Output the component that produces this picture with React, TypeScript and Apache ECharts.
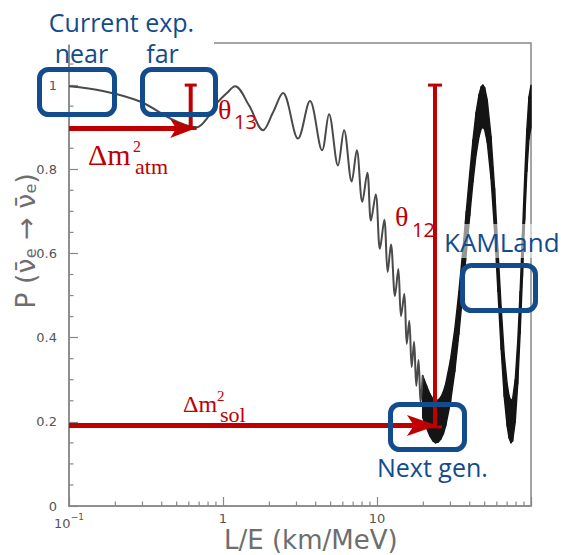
import React, { useEffect, useRef } from 'react';
import * as echarts from 'echarts';

// Resolved part of the survival curve (L/E in km/MeV, probability)
const curveX = [0.1, 0.166, 0.289, 0.453, 0.575, 0.678, 0.787, 0.914, 1.06, 1.197, 1.474, 1.82, 2.11, 2.45, 3.07, 3.67, 4.4, 4.88, 5.58, 6.11, 6.85, 7.39, 8.03, 8.65, 9.14, 9.81, 10.45, 11.15, 11.73, 12.32, 13.09, 13.75, 14.32, 15.04, 15.6, 16.2, 16.8, 17.4, 18.0, 18.6, 19.2, 19.8];
const curveP = [0.997, 0.986, 0.961, 0.921, 0.905, 0.9, 0.921, 0.957, 0.981, 0.997, 0.952, 0.893, 0.935, 0.981, 0.873, 0.962, 0.845, 0.931, 0.809, 0.893, 0.771, 0.845, 0.723, 0.792, 0.678, 0.74, 0.611, 0.68, 0.556, 0.621, 0.499, 0.563, 0.451, 0.504, 0.385, 0.44, 0.33, 0.39, 0.285, 0.347, 0.245, 0.31];

// Dense (unresolved) part: upper and lower envelope of the fast oscillation
const bandX = [19.8, 21, 22, 23, 24, 25, 26, 27, 28, 30, 32, 34, 36, 38, 40, 42, 44, 46, 47.5, 48.7, 50, 52, 55, 58, 61, 64, 67, 70, 72, 74, 76, 79, 82, 85, 88, 91, 94, 97, 100];
const bandUpper = [0.31, 0.285, 0.267, 0.255, 0.25, 0.252, 0.259, 0.272, 0.292, 0.347, 0.42, 0.508, 0.603, 0.7, 0.79, 0.87, 0.935, 0.978, 0.996, 1.0, 0.994, 0.964, 0.878, 0.755, 0.61, 0.472, 0.36, 0.29, 0.262, 0.25, 0.255, 0.3, 0.39, 0.51, 0.645, 0.78, 0.895, 0.972, 1.0];
const bandLower = [0.21, 0.185, 0.167, 0.155, 0.15, 0.152, 0.159, 0.172, 0.192, 0.247, 0.32, 0.408, 0.503, 0.6, 0.69, 0.77, 0.835, 0.878, 0.896, 0.9, 0.894, 0.864, 0.778, 0.655, 0.51, 0.372, 0.26, 0.19, 0.162, 0.15, 0.155, 0.2, 0.29, 0.41, 0.545, 0.68, 0.795, 0.872, 0.9];

const xMinorTicks = [0.2, 0.3, 0.4, 0.5, 0.6, 0.7, 0.8, 0.9, 2, 3, 4, 5, 6, 7, 8, 9, 20, 30, 40, 50, 60, 70, 80, 90];
const yMinorTicks = [0.05, 0.1, 0.15, 0.25, 0.3, 0.35, 0.45, 0.5, 0.55, 0.65, 0.7, 0.75, 0.85, 0.9, 0.95, 1.05];

// annotation anchors (data units)
const atmArrow = { y: 0.897, tipX: 0.66 };
const theta13 = { x: 0.617, top: 1.0, bottom: 0.897 };
const theta12 = { x: 23.8, top: 1.0, bottom: 0.188 };
const solArrow = { y: 0.191, tipX: 24.5 };

const RED = '#c00000';
const BLUE = '#124c8c';
const GRAY = '#888';

export default function App() {
  const ref = useRef<HTMLDivElement>(null);
  useEffect(() => {
    document.body.style.margin = '0';
    const chart = echarts.init(ref.current!, null, { renderer: 'svg' });
    const tickRender = (horizontal: boolean) => (params: any, api: any) => {
      const p = horizontal ? api.coord([0.1, api.value(1)]) : api.coord([api.value(0), 0]);
      return {
        type: 'line',
        shape: horizontal
          ? { x1: p[0], y1: p[1], x2: p[0] + 4.5, y2: p[1] }
          : { x1: p[0], y1: p[1], x2: p[0], y2: p[1] - 4.5 },
        style: { stroke: GRAY, lineWidth: 1.2 },
      };
    };
    const bandSegments = bandX.slice(0, -1).map((x, i) => [x, bandUpper[i], bandLower[i], bandX[i + 1], bandUpper[i + 1], bandLower[i + 1]]);
    chart.setOption({
      animation: false,
      grid: { left: 69, right: 30, top: 43, bottom: 49, show: true, borderColor: GRAY, borderWidth: 1.5, backgroundColor: 'transparent' },
      xAxis: {
        type: 'log', logBase: 10, min: 0.1, max: 100,
        axisLine: { lineStyle: { color: GRAY, width: 1.5 } },
        axisTick: { inside: true, length: 9, lineStyle: { color: GRAY, width: 1.2 } },
        splitLine: { show: false },
        axisLabel: {
          margin: 6, color: '#555', fontFamily: 'DejaVu Sans', fontSize: 13,
          formatter: (v: number) => {
            const l = Math.round(Math.log10(v));
            if (l === -1) return '{a|10}{b|−1}';
            if (l === 0) return '1';
            if (l === 1) return '10';
            return '';
          },
          rich: {
            a: { fontSize: 13, fontFamily: 'DejaVu Sans', color: '#555', lineHeight: 18, verticalAlign: 'bottom' },
            b: { fontSize: 9, fontFamily: 'DejaVu Sans', color: '#555', lineHeight: 18, verticalAlign: 'top' },
          },
        },
      },
      yAxis: {
        type: 'value', min: 0, max: 1.1, interval: 0.2,
        axisLine: { show: true, lineStyle: { color: GRAY, width: 1.5 } },
        axisTick: { show: true, inside: true, length: 9, lineStyle: { color: GRAY, width: 1.2 } },
        splitLine: { show: false },
        axisLabel: { showMaxLabel: false, margin: 12, color: '#555', fontFamily: 'DejaVu Sans', fontSize: 13 },
      },
      series: [
        {
          type: 'line', data: curveX.map((x, i) => [x, curveP[i]]), smooth: 0.35, showSymbol: false,
          lineStyle: { color: '#4a4a4a', width: 2 }, z: 3,
        },
        {
          type: 'custom', data: bandSegments, encode: { x: [0, 3], y: [1, 2, 4, 5] }, silent: true, z: 3,
          renderItem: (params: any, api: any) => {
            const a = api.coord([api.value(0), api.value(1)]);
            const b = api.coord([api.value(3), api.value(4)]);
            const c = api.coord([api.value(3), api.value(5)]);
            const d = api.coord([api.value(0), api.value(2)]);
            return {
              type: 'polygon',
              shape: { points: [a, b, c, d] },
              style: { fill: '#151515', stroke: '#151515', lineWidth: 1.4, lineJoin: 'round' },
            };
          },
        },
        { type: 'custom', data: xMinorTicks.map((v) => [v, 0]), renderItem: tickRender(false), silent: true, z: 4 },
        { type: 'custom', data: yMinorTicks.map((v) => [0.1, v]), renderItem: tickRender(true), silent: true, z: 4 },
      ],
    });

    const px = (x: number, y: number) => chart.convertToPixel({ gridIndex: 0 }, [x, y]) as number[];
    const g: any[] = [];
    const Z = 100;
    const arrow = (x0: number, y0: number, x1: number, len: number, h: number, notch: number, w: number) => {
      g.push({ type: 'line', z: Z, shape: { x1: x0, y1: y0, x2: x1 - len + notch, y2: y0 }, style: { stroke: RED, lineWidth: w } });
      g.push({ type: 'polygon', z: Z, shape: { points: [[x1, y0], [x1 - len, y0 - h / 2], [x1 - len + notch, y0], [x1 - len, y0 + h / 2]] }, style: { fill: RED } });
    };
    const ibeam = (x: number, yt: number, yb: number, w: number, cap: number) => {
      g.push({ type: 'line', z: Z, shape: { x1: x, y1: yt, x2: x, y2: yb }, style: { stroke: RED, lineWidth: w } });
      g.push({ type: 'line', z: Z, shape: { x1: x - cap, y1: yt, x2: x + cap, y2: yt }, style: { stroke: RED, lineWidth: 3 } });
      g.push({ type: 'line', z: Z, shape: { x1: x - cap, y1: yb, x2: x + cap, y2: yb }, style: { stroke: RED, lineWidth: 3 } });
    };
    const text = (t: string, x: number, y: number, size: number, family: string, fill: string, align = 'left') => {
      g.push({ type: 'text', z: Z + 1, style: { text: t, x, y, fontSize: size, fontFamily: family, fill, textAlign: align, textVerticalAlign: 'middle' } });
    };
    const box = (x0: number, y0: number, x1: number, y1: number) => {
      g.push({ type: 'rect', z: Z, shape: { x: x0 + 2.5, y: y0 + 2.5, width: x1 - x0 - 5, height: y1 - y0 - 5, r: 9 }, style: { fill: 'none', stroke: BLUE, lineWidth: 5 } });
    };

    // white label background top-left, semi-transparent behind KAMLand
    g.push({ type: 'rect', z: Z - 1, shape: { x: 0, y: 0, width: 214, height: 44.5 }, style: { fill: '#fff' } });
    g.push({ type: 'rect', z: Z - 1, shape: { x: 440, y: 224, width: 121, height: 34 }, style: { fill: 'rgba(255,255,255,0.55)' } });

    // arrows and bars
    const a0 = px(0.1, atmArrow.y); const a1 = px(atmArrow.tipX, atmArrow.y);
    arrow(a0[0], a0[1], a1[0], 25, 19, 6, 5);
    const t13a = px(theta13.x, theta13.top); const t13b = px(theta13.x, theta13.bottom);
    ibeam(t13a[0], t13a[1], t13b[1], 4, 6);
    const t12a = px(theta12.x, theta12.top); const t12b = px(theta12.x, theta12.bottom);
    ibeam(t12a[0], t12a[1], t12b[1], 4, 7);
    const s0 = px(0.1, solArrow.y); const s1 = px(solArrow.tipX, solArrow.y);
    arrow(s0[0], s0[1], s1[0], 30, 21, 7, 5);

    // boxes
    box(37, 67, 117, 117);
    box(140, 67, 218, 117);
    box(460, 263, 538, 313);
    box(388, 402, 467, 452);

    // blue texts
    text('Current exp.', 121.5, 22, 25, 'Open Sans', BLUE, 'center');
    text('near', 81.5, 53, 25, 'Open Sans', BLUE, 'center');
    text('far', 162.5, 53, 25, 'Open Sans', BLUE, 'center');
    text('KAMLand', 444, 242, 26, 'Open Sans', BLUE);
    text('Next gen.', 377, 467, 25, 'Open Sans', BLUE);

    // red texts
    const SERIF = 'Liberation Serif';
    text('Δm', 88, 154, 30, SERIF, RED);
    text('2', 133, 146, 16, SERIF, RED);
    text('atm', 135, 166, 22, SERIF, RED);
    text('θ', 218, 109, 28, SERIF, RED);
    text('13', 234, 121, 20, 'Open Sans', RED);
    text('θ', 395, 216, 28, SERIF, RED);
    text('12', 412, 229, 20, 'Open Sans', RED);
    text('Δm', 183, 404, 24, SERIF, RED);
    text('2', 217, 396, 15, SERIF, RED);
    text('sol', 220, 414, 22, SERIF, RED);

    // axis titles
    text('L/E (km/MeV)', 224, 540, 26, 'DejaVu Sans', '#6e6e6e');
    g.push({
      type: 'text', z: Z + 1, x: 25, y: 241, rotation: Math.PI / 2,
      style: {
        text: '{n|P (ν\u0304}{s|e}{n| → ν\u0304}{s|e}{n|)}', x: 0, y: 0, textAlign: 'center', textVerticalAlign: 'middle',
        rich: {
          n: { fontSize: 27, fontFamily: 'DejaVu Sans', fill: '#6e6e6e' },
          s: { fontSize: 16, fontFamily: 'DejaVu Sans', fill: '#6e6e6e', verticalAlign: 'bottom' },
        },
      },
    });

    chart.setOption({ graphic: g });
    return () => chart.dispose();
  }, []);
  return <div ref={ref} style={{ position: 'absolute', left: 0, top: 0, width: 561, height: 555 }} />;
}
